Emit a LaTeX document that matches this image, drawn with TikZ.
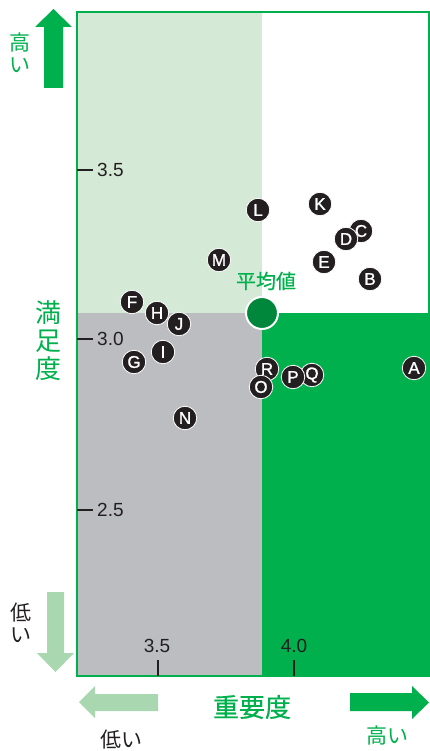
\documentclass[tikz,border=0pt]{standalone}
\usepackage{fontspec}
\setmainfont{Liberation Sans}
\newfontfamily\jp{Noto Sans CJK JP}
\newfontfamily\jpb{Noto Sans CJK JP}[FakeBold=0.6]
\newfontfamily\ptfont{Liberation Sans}[FakeBold=1.2]
\definecolor{lg}{HTML}{D5EAD6}
\definecolor{gy}{HTML}{BCBDC1}
\definecolor{gn}{HTML}{00B04C}
\definecolor{dg}{HTML}{00873C}
\definecolor{la}{HTML}{A9D8B0}
\definecolor{tx}{HTML}{231F20}
\tikzset{
  pt/.style={circle, fill=tx, draw=white, line width=0.8pt, minimum size=23.5pt, inner sep=0pt,
    text=white, font=\ptfont\fontsize{17}{17}\selectfont},
  num/.style={text=tx, font=\fontsize{19}{19}\selectfont, inner sep=0pt},
  tick/.style={line width=1.6pt, draw=tx},
  jpg/.style={text=gn, inner sep=0pt},
  jpk/.style={text=tx, inner sep=0pt},
}
\begin{document}
\begin{tikzpicture}[x=1pt,y=-1pt]
\useasboundingbox (0,0) rectangle (430,751);
% quadrants
\fill[lg] (77,12) rectangle (262,313);
\fill[white] (262,12) rectangle (429,313);
\fill[gy] (77,313) rectangle (262,676);
\fill[gn] (262,313) rectangle (429,676);
\draw[gn, line width=2.2pt] (77,12) rectangle (429,676);
% arrows
\fill[gn] (44,88) -- (44,27) -- (35,27) -- (53.5,9) -- (72,27) -- (63,27) -- (63,88) -- cycle;
\fill[la] (47,592) -- (64,592) -- (64,653) -- (74,653) -- (55.5,672) -- (37,653) -- (47,653) -- cycle;
\fill[la] (158,694) -- (95,694) -- (95,686) -- (79,702) -- (95,718) -- (95,711) -- (158,711) -- cycle;
\fill[gn] (350,693) -- (412,693) -- (412,686) -- (429,702.5) -- (412,719) -- (412,711) -- (350,711) -- cycle;
% axis texts
\node[jpg, font=\jp\fontsize{21}{21}\selectfont] (hi1) at (20,43) {高};
\node[jpg, font=\jp\fontsize{21}{21}\selectfont] (hi2) at (20,65) {い};
\node[jpk, font=\jp\fontsize{21}{21}\selectfont] (lo1) at (21,613) {低};
\node[jpk, font=\jp\fontsize{21}{21}\selectfont] (lo2) at (21,635) {い};
\node[jpg, font=\jp\fontsize{26}{26}\selectfont] (s1) at (48,313) {満};
\node[jpg, font=\jp\fontsize{26}{26}\selectfont] (s2) at (48,341) {足};
\node[jpg, font=\jp\fontsize{26}{26}\selectfont] (s3) at (48,369) {度};
\node[jpg, font=\jpb\fontsize{26}{26}\selectfont] (imp) at (252,707) {重要度};
\node[jpk, font=\jp\fontsize{21}{21}\selectfont] (lo3) at (121,740) {低い};
\node[jpg, font=\jp\fontsize{21}{21}\selectfont] (hi3) at (387,735) {高い};
% ticks
\draw[tick] (77,170) -- (93,170);
\draw[tick] (77,339) -- (93,339);
\draw[tick] (77,510) -- (93,510);
\node[num, anchor=west] (y35) at (97,170) {3.5};
\node[num, anchor=west] (y30) at (97,339) {3.0};
\node[num, anchor=west] (y25) at (97,510) {2.5};
\draw[tick] (158,660) -- (158,676);
\draw[tick] (294,660) -- (294,676);
\node[num] (x35) at (157,646) {3.5};
\node[num] (x40) at (294,646) {4.0};
% mean
\node[circle, fill=dg, draw=white, line width=2pt, minimum size=32pt, inner sep=0pt] (avg) at (262,313) {};
\node[jpg, font=\jpb\fontsize{20}{20}\selectfont] (avglab) at (266,281) {平均値};
% points
\node[pt] (A) at (414,368) {A};
\node[pt] (B) at (370,279) {B};
\node[pt] (C) at (361,231) {C};
\node[pt] (D) at (346,239) {D};
\node[pt] (E) at (324,262) {E};
\node[pt] (F) at (132,302) {F};
\node[pt] (G) at (134,362) {G};
\node[pt] (H) at (157,313) {H};
\node[pt] (I) at (163,352) {I};
\node[pt] (J) at (179,324) {J};
\node[pt] (K) at (320,204) {K};
\node[pt] (L) at (258,210) {L};
\node[pt] (M) at (219,260) {M};
\node[pt] (N) at (185,418) {N};
\node[pt] (R) at (267,369) {R};
\node[pt] (O) at (261,387) {O};
\node[pt] (Q) at (312,375) {Q};
\node[pt] (P) at (293,377) {P};
\end{tikzpicture}
\end{document}
